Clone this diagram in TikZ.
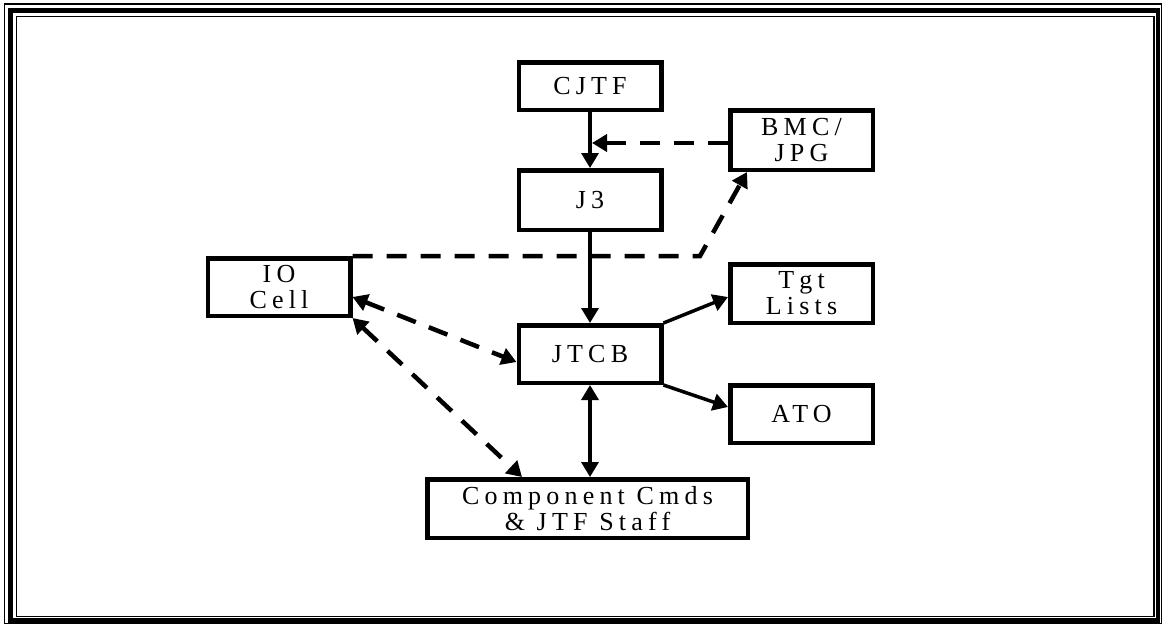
\documentclass[tikz,border=0pt]{standalone}
\usepackage{fontspec}
\setmainfont{Liberation Serif}[LetterSpace=20]
\usepackage{tikz}
\usetikzlibrary{positioning,arrows.meta}

\begin{document}
\begin{tikzpicture}[x=1pt,y=-1pt,node distance=56pt,
>={Triangle[length=15pt,width=17pt]},
box/.style={draw,line width=4.5pt,align=center,minimum width=142.5pt,minimum height=57.5pt,inner sep=2pt,font=\fontsize{26}{26}\selectfont},
arrow/.style={->,line width=3.5pt},
dasharrow/.style={->,line width=4.5pt,dash pattern=on 20pt off 14pt}]
\useasboundingbox (0,0) rectangle (1163,625);
\draw[line width=1.5pt] (4.5,4) rectangle (1161.5,623.5);
\draw[line width=4.5pt] (10.5,10.5) rectangle (1158,620.5);
\draw[line width=1.5pt] (16.5,16.5) rectangle (1154,616.5);
\node[box,minimum height=47.5pt] (cjtf) at (590,86) {CJTF};
\node[box,minimum height=59.5pt,below=of cjtf] (j3) {J3};
\node[box,below=91pt of j3] (jtcb) {JTCB};
\node[box,minimum width=320.5pt,minimum height=58.5pt,below=92pt of jtcb,xshift=-2.5pt] (cmds) {Component Cmds\\ \& JTF Staff};
\node[box,minimum height=59.5pt] (bmc) at (801.5,140) {BMC/\\JPG};
\node[box] (io) at (279,287) {IO\\Cell};
\node[box,minimum height=58.5pt] (tgt) at (801.5,293.5) {Tgt\\Lists};
\node[box] (ato) at (801.5,414) {ATO};
\coordinate (bend) at (700,256);
\draw[arrow](cjtf)--(j3);\draw[arrow](j3)--(jtcb);\draw[arrow,<->](jtcb.south)--(jtcb.south|-cmds.north);
\draw[arrow](jtcb.north east)--([yshift=-3.5pt]tgt.west);\draw[arrow](jtcb.south east)--([yshift=7pt]ato.west);
\draw[dasharrow]([yshift=-3pt]bmc.west)--([yshift=-3pt,xshift=2pt]bmc.west-|cjtf.south);
\draw[dasharrow](io.north east)--(bend)--([xshift=19pt]bmc.south west);
\draw[dasharrow,<->]([yshift=-10pt]io.east)--([yshift=-8pt]jtcb.west);
\draw[dasharrow,<->](io.south east)--([xshift=97pt]cmds.north west);
\end{tikzpicture}
\end{document}
